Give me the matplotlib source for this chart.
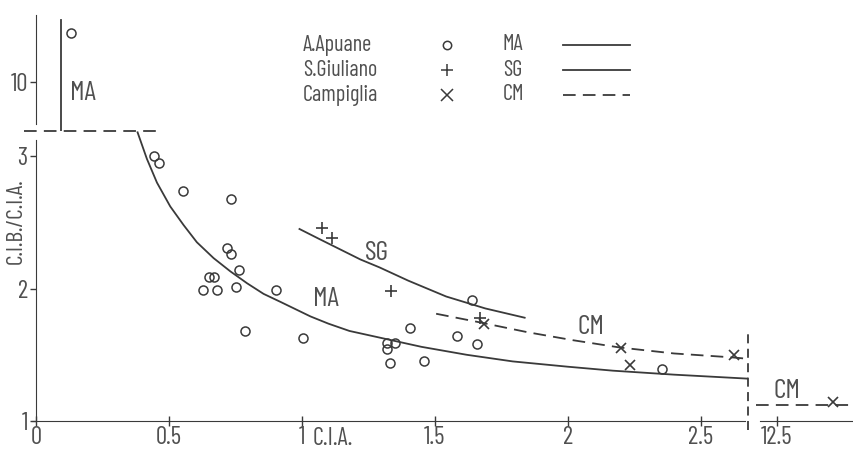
import matplotlib.pyplot as plt
from matplotlib.lines import Line2D

# points (x = C.I.A., y = C.I.B./C.I.A.)
apuane_x = [0.444, 0.463, 0.554, 0.734, 0.720, 0.733, 0.765, 0.652, 0.670, 0.630,
            0.681, 0.752, 0.903, 0.787, 1.003, 1.319, 1.319, 1.352, 1.332, 1.458,
            1.405, 1.585, 1.660, 1.640, 2.353]
apuane_y = [3.00, 2.95, 2.74, 2.68, 2.31, 2.26, 2.14, 2.09, 2.09, 1.99,
            1.99, 2.01, 1.99, 1.68, 1.63, 1.59, 1.54, 1.59, 1.44, 1.45,
            1.70, 1.64, 1.58, 1.91, 1.39]
apuane_top_x = [0.132]
apuane_top_y = [13.0]

giuliano_x = [1.076, 1.114, 1.336, 1.669]
giuliano_y = [2.46, 2.38, 1.98, 1.78]

campiglia_x = [1.684, 2.202, 2.234, 2.625]
campiglia_y = [1.73, 1.555, 1.42, 1.50]
campiglia_right_x = [12.71]
campiglia_right_y = [1.14]

# fitted curves as drawn in the figure
ma_x = [0.382, 0.417, 0.455, 0.505, 0.555, 0.605, 0.668, 0.731, 0.794, 0.856,
        0.919, 1.032, 1.10, 1.179, 1.292, 1.45, 1.62, 1.793, 2.0, 2.17, 2.40, 2.676]
ma_y = [3.18, 2.98, 2.80, 2.62, 2.48, 2.35, 2.23, 2.13, 2.04, 1.96,
        1.90, 1.79, 1.735, 1.68, 1.63, 1.56, 1.50, 1.45, 1.41, 1.38, 1.35, 1.32]
sg_x = [0.991, 1.06, 1.14, 1.22, 1.292, 1.40, 1.543, 1.69, 1.838]
sg_y = [2.45, 2.38, 2.30, 2.22, 2.16, 2.06, 1.94, 1.85, 1.78]
cm_x = [1.505, 1.669, 1.85, 2.02, 2.196, 2.40, 2.621, 2.676]
cm_y = [1.81, 1.745, 1.67, 1.61, 1.555, 1.51, 1.48, 1.47]
cm_right_x = [12.42, 12.79]
cm_right_y = [1.12, 1.12]
ma_top_x = [0.094, 0.094]
ma_top_y = [7.0, 13.8]

xticks = [0, 0.5, 1, 1.5, 2, 2.5]
xtick_labels = ["0", "0.5", "1", "1.5", "2", "2.5"]

legend_names = ["A.Apuane", "S.Giuliano", "Campiglia"]
legend_markers = ["o", "+", "x"]
legend_codes = ["MA", "SG", "CM"]
legend_styles = ["-", "-", "--"]

ink = "#3a3a3a"
plt.rcParams["font.family"] = ["Barlow Condensed", "DejaVu Sans"]
plt.rcParams["text.color"] = "#505050"
dash = (0, (7, 4))

fig = plt.figure(figsize=(8.54, 4.53), dpi=100)
W, H = 854, 453

def box(l, t, r, b):
    return [l / W, 1 - b / H, (r - l) / W, (b - t) / H]

ax = fig.add_axes(box(36, 131, 748, 421))
top = fig.add_axes(box(36, 15, 748, 131))
right = fig.add_axes(box(752, 131, 854, 421))

for a in (ax, top, right):
    a.set_facecolor("none")
    for s in a.spines.values():
        s.set_visible(False)
    a.tick_params(colors=ink, labelcolor="#505050", labelsize=18, width=1)

ax.set_xlim(0, 2.678)
ax.set_ylim(1, 3.19)
ax.spines["left"].set_visible(True)
ax.spines["bottom"].set_visible(True)
ax.spines["left"].set_bounds(1, 3.12)
ax.spines["bottom"].set_bounds(-0.015, 2.665)
ax.spines["left"].set_color(ink)
ax.spines["bottom"].set_color(ink)
ax.set_xticks(xticks, xtick_labels)
ax.set_yticks([1, 2, 3], ["1", "2", "3"])
ax.tick_params(axis="x", direction="inout", length=7, pad=0)
ax.tick_params(axis="y", direction="out", length=4, pad=2)

top.set_xlim(0, 2.678)
top.set_ylim(7, 14.1)
top.spines["left"].set_visible(True)
top.spines["left"].set_bounds(7.4, 14.1)
top.spines["left"].set_color(ink)
top.set_xticks([])
top.set_yticks([10], ["10"])
top.tick_params(axis="y", direction="out", length=4, pad=2)

right.set_xlim(12.406, 12.79)
right.set_ylim(1, 3.19)
right.spines["bottom"].set_visible(True)
right.spines["bottom"].set_bounds(12.436, 12.79)
right.spines["bottom"].set_color(ink)
right.set_xticks([12.5], ["12.5"])
right.set_yticks([])
right.tick_params(axis="x", direction="inout", length=7, pad=0)

# curves
ax.plot(ma_x, ma_y, color=ink, lw=1.3)
ax.plot(sg_x, sg_y, color=ink, lw=1.3)
ax.plot(cm_x, cm_y, color=ink, lw=1.3, linestyle=dash)
right.plot(cm_right_x, cm_right_y, color=ink, lw=1.3, linestyle=dash, clip_on=False)
top.plot(ma_top_x, ma_top_y, color=ink, lw=1.3)

# break lines
ax.plot([-0.045, 0.463], [3.19, 3.19], color=ink, lw=1.3, linestyle=dash, clip_on=False)
ax.plot([2.678, 2.678], [0.93, 1.68], color=ink, lw=1.3, linestyle=(0, (5, 3)), clip_on=False)

# samples
ax.plot(apuane_x, apuane_y, "o", ms=6.5, mfc="none", mec=ink, mew=1.1)
top.plot(apuane_top_x, apuane_top_y, "o", ms=6.5, mfc="none", mec=ink, mew=1.1)
ax.plot(giuliano_x, giuliano_y, "+", ms=9, mec=ink, mew=1.2)
ax.plot(campiglia_x, campiglia_y, "x", ms=7, mec=ink, mew=1.2)
right.plot(campiglia_right_x, campiglia_right_y, "x", ms=7, mec=ink, mew=1.2, clip_on=False)

# curve labels
lab = dict(fontsize=20, ha="center", va="center")
ax.text(1.092, 1.92, "MA", **lab)
ax.text(1.281, 2.27, "SG", **lab)
ax.text(2.087, 1.71, "CM", **lab)
right.text(12.538, 1.226, "CM", **lab)
top.text(0.128, 9.33, "MA", fontsize=20, ha="left", va="center")
ax.text(1.115, 0.865, "C.I.A.", fontsize=17.5, ha="center", va="center")

fig.text(16 / W, 1 - 221 / H, "C.I.B./C.I.A.", rotation=90, fontsize=17,
         ha="center", va="center")

# legend table
for i in range(3):
    yy = 1 - (45 + 25 * i) / H
    fig.text(303 / W, yy, legend_names[i], fontsize=16, va="center")
    fig.add_artist(Line2D([447 / W], [yy], marker=legend_markers[i], ms=6 if i == 0 else 8,
                          mfc="none", mec=ink, mew=1.1, linestyle="none",
                          transform=fig.transFigure))
    fig.text(503 / W, yy, legend_codes[i], fontsize=16, va="center")
    fig.add_artist(Line2D([563 / W, 630 / W], [yy, yy], color=ink, lw=1.3,
                          linestyle=dash if legend_styles[i] == "--" else "-",
                          transform=fig.transFigure))

fig.savefig("out.png", dpi=100)
